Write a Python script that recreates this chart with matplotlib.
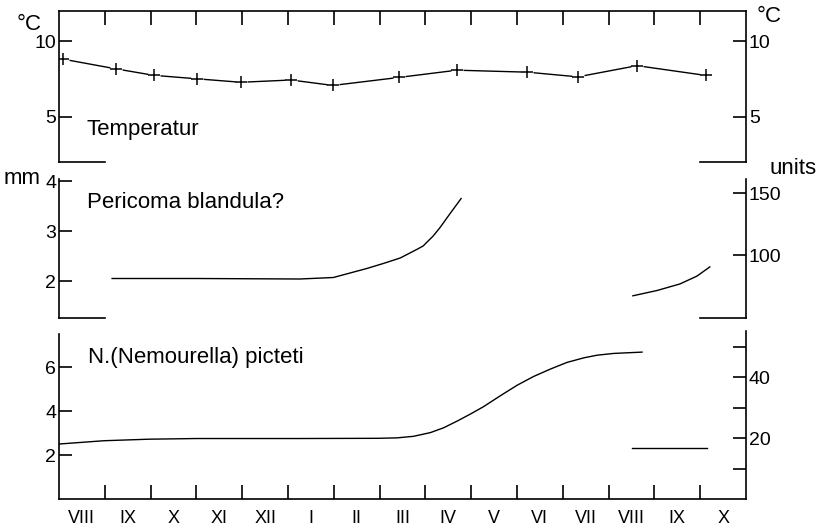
import numpy as np
import matplotlib.pyplot as plt

plt.rcParams['font.family'] = ['Liberation Sans', 'DejaVu Sans']

W, H = 820, 531

months = ['VIII', 'IX', 'X', 'XI', 'XII', 'I', 'II', 'III', 'IV', 'V', 'VI', 'VII', 'VIII', 'IX', 'X']

# time axis in months from start of August
# water temperature, deg C
temp_t = [0.09, 1.24, 2.07, 3.01, 3.97, 5.07, 5.98, 7.42, 8.69, 10.22, 11.33, 12.62, 14.13]
temp_c = [8.81, 8.17, 7.74, 7.51, 7.28, 7.43, 7.07, 7.60, 8.08, 7.95, 7.64, 8.38, 7.73]

# Pericoma blandula?  length in mm, then second generation in units
peri_t = [1.16, 3.0, 5.26, 5.99, 6.72, 7.08, 7.45, 7.81, 7.95, 8.17, 8.32, 8.54, 8.78]
peri_mm = [2.05, 2.05, 2.04, 2.07, 2.25, 2.35, 2.46, 2.63, 2.70, 2.90, 3.07, 3.35, 3.65]
peri2_t = [12.53, 13.06, 13.56, 13.93, 14.21]
peri2_units = [67.1, 71.4, 76.7, 83.0, 90.4]

# N. (Nemourella) picteti
nem_t = [0.0, 0.98, 1.97, 3.0, 5.2, 6.97, 7.38, 7.74, 8.11, 8.40, 8.69, 8.98, 9.27, 9.64,
         10.0, 10.36, 10.73, 11.09, 11.46, 11.75, 12.11, 12.73]
nem_val = [2.5, 2.65, 2.72, 2.75, 2.75, 2.76, 2.78, 2.85, 3.02, 3.24, 3.54, 3.86, 4.20, 4.70,
           5.17, 5.57, 5.91, 6.21, 6.42, 6.54, 6.62, 6.68]
nem2_t = [12.51, 14.15]
nem2_units = [16.8, 16.8]

LW_AX = 1.2
LW = 1.0
TICK_FS = 14
TXT_FS = 16


def box(top, bottom, left=59, right=746):
    # axes rectangle from pixel edges
    return [left / W, 1 - bottom / H, (right - left) / W, (bottom - top) / H]


def stubs(ax, y):
    # short bottom pieces at both ends of a panel
    ax.axhline(y, 0, 1 / 15, color='black', lw=LW_AX, clip_on=False)
    ax.axhline(y, 14 / 15, 1, color='black', lw=LW_AX, clip_on=False)


fig = plt.figure(figsize=(W / 100, H / 100), dpi=100)

# ---- top panel: temperature ----
ax1 = fig.add_axes(box(11, 162))
ax1.set_xlim(0, 15)
ax1.set_ylim(2.0, 12.0)
for s in ['left', 'right', 'top']:
    ax1.spines[s].set_linewidth(LW_AX)
ax1.spines['bottom'].set_visible(False)
stubs(ax1, 2.0)
ax1.set_yticks([5, 10])
ax1.tick_params(axis='y', direction='in', length=9.5, width=LW_AX, left=True, right=True,
                labelleft=True, labelright=True, labelsize=TICK_FS, pad=2)
ax1.set_xticks(np.arange(1, 15))
ax1.tick_params(axis='x', direction='in', length=10, width=LW_AX, top=True, bottom=False,
                labeltop=False, labelbottom=False)
ax1.plot(temp_t, temp_c, color='black', lw=LW)
ax1.plot(temp_t, temp_c, ls='none', marker='s', ms=9, mfc='white', mec='none')
ax1.plot(temp_t, temp_c, ls='none', marker='+', ms=8, mew=1.1, color='black')

# ---- middle panel: Pericoma ----
ax2 = fig.add_axes(box(179, 318))
ax2.set_xlim(0, 15)
ax2.set_ylim(1.26, 4.04)
for s in ['right', 'top', 'bottom']:
    ax2.spines[s].set_visible(False)
ax2.spines['left'].set_linewidth(LW_AX)
stubs(ax2, 1.26)
ax2.set_xticks([])
ax2.set_yticks([2, 3, 4])
ax2.tick_params(axis='y', direction='in', length=9.5, width=LW_AX, labelsize=TICK_FS, pad=2)
ax2.plot(peri_t, peri_mm, color='black', lw=LW)

ax2r = ax2.twinx()
ax2r.set_xlim(0, 15)
ax2r.set_ylim(49.2, 161.3)
for s in ['left', 'top', 'bottom']:
    ax2r.spines[s].set_visible(False)
ax2r.spines['right'].set_linewidth(LW_AX)
ax2r.set_yticks([100, 150])
ax2r.tick_params(axis='y', direction='in', length=9.5, width=LW_AX, labelsize=TICK_FS, pad=2)
ax2r.plot(peri2_t, peri2_units, color='black', lw=LW)

# ---- bottom panel: N. (Nemourella) picteti ----
ax3 = fig.add_axes(box(331, 499))
ax3.set_xlim(0, 15)
ax3.set_ylim(0, 7.64)
for s in ['right', 'top']:
    ax3.spines[s].set_visible(False)
ax3.spines['left'].set_bounds(0, 7.5)
ax3.spines['left'].set_linewidth(LW_AX)
ax3.spines['bottom'].set_linewidth(LW_AX)
ax3.set_yticks([2, 4, 6])
ax3.tick_params(axis='y', direction='in', length=9.5, width=LW_AX, labelsize=TICK_FS, pad=2)
ax3.set_xticks(np.arange(1, 15))
ax3.set_xticks(np.arange(15) + 0.5, minor=True)
ax3.set_xticklabels(months, minor=True)
ax3.tick_params(axis='x', which='major', direction='in', length=10, width=LW_AX, labelbottom=False)
ax3.tick_params(axis='x', which='minor', length=0, labelsize=13, pad=8)
ax3.plot(nem_t, nem_val, color='black', lw=LW)

ax3r = ax3.twinx()
ax3r.set_xlim(0, 15)
ax3r.set_ylim(0, 55.3)
for s in ['left', 'top', 'bottom']:
    ax3r.spines[s].set_visible(False)
ax3r.spines['right'].set_linewidth(LW_AX)
ax3r.set_yticks([10, 20, 30, 40, 50])
ax3r.set_yticklabels(['', '20', '', '40', ''])
ax3r.tick_params(axis='y', direction='in', length=9.5, width=LW_AX, labelsize=TICK_FS, pad=2)
ax3r.plot(nem2_t, nem2_units, color='black', lw=LW)

# ---- free text ----
def ftxt(x, y, s, ha='left'):
    fig.text(x / W, 1 - y / H, s, ha=ha, va='center', fontsize=TXT_FS)

ftxt(17, 24, '°C')
ftxt(757, 16, '°C')
ftxt(87, 129, 'Temperatur')
ftxt(770, 168, 'units')
ftxt(4, 179, 'mm')
ftxt(87, 202, 'Pericoma blandula?')
ftxt(88, 357, 'N.(Nemourella) picteti')

fig.savefig('out.png', dpi=100)
